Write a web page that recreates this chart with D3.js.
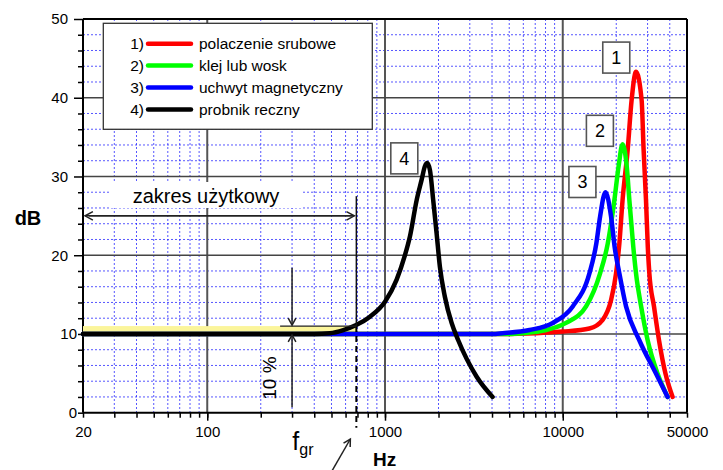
<!DOCTYPE html>
<html>
<head>
<meta charset="utf-8">
<script src="https://cdn.jsdelivr.net/npm/d3@7"></script>
<style>
  body { margin: 0; background: #fff; }
  svg { display: block; font-family: "Liberation Sans", Arial, sans-serif; }
</style>
</head>
<body>
<div id="chart"></div>
<script>
// tick labels
var xTickLabels = [20, 100, 1000, 10000, 50000];
var yTickLabels = [0, 10, 20, 30, 40, 50];

// series
var seriesNames = ["polaczenie srubowe", "klej lub wosk", "uchwyt magnetyczny", "probnik reczny"];
var seriesColors = ["#ff0000", "#00ff00", "#0000ff", "#000000"];

var redFreq = [20, 5000, 10000, 14125, 16770, 18700, 19950, 20820, 21700, 23190, 24400, 25830, 27780, 28500, 29400, 30100, 30700, 32600, 34800, 37800, 41500];
var redDb   = [10, 10, 10.3, 10.7, 11.8, 14.3, 17.7, 21.5, 27, 33.4, 39.7, 43.3, 39.7, 33.4, 27, 21, 17.7, 13.5, 9.2, 5, 2];

var greenFreq = [20, 5000, 5960, 8070, 10440, 13530, 16220, 17920, 19520, 20620, 21700, 22900, 23700, 24950, 25830, 27600, 30030, 34100, 38900];
var greenDb   = [10, 10, 10.1, 10.5, 11.4, 13.5, 17.7, 21.5, 27, 31.3, 34.1, 31.3, 27, 21, 17.7, 13.5, 9.2, 5, 2];

var blueFreq = [20, 4000, 4590, 6500, 8790, 11380, 14125, 15450, 16220, 17380, 18700, 19600, 20820, 22700, 26960, 33400, 38900];
var blueDb   = [10, 10, 10.1, 10.5, 11.4, 13.5, 17.7, 21.5, 24.9, 28, 24.9, 21, 17.7, 13.5, 9.2, 5, 2];

var blackFreq = [20, 400, 490, 583, 684, 823, 1000, 1163, 1295, 1382, 1507, 1608, 1677, 1727, 1790, 1867, 1951, 2037, 2173, 2370, 2582, 3272, 4030];
var blackDb   = [10, 10, 10.1, 10.5, 11.1, 12.2, 14.1, 16.9, 20, 22.4, 27, 29.6, 31.3, 31.7, 30.8, 27, 22.8, 18.5, 14.7, 11.4, 9.2, 4.6, 2];

// annotations
var fGr = 690;
var peakLabels = ["1", "2", "3", "4"];
var peakLabelFreq = [20000, 16180, 12900, 1284];
var peakLabelDb = [45.1, 35.8, 29.3, 32.3];

var svg = d3.select("#chart").append("svg")
    .attr("width", 723)
    .attr("height", 470);

var margin = { top: 19, left: 83 },
    width = 604,
    height = 393.7;

var g = svg.append("g").attr("transform", "translate(" + margin.left + "," + margin.top + ")");

var x = d3.scaleLog().domain([20, 50000]).range([0, width]);
var y = d3.scaleLinear().domain([0, 50]).range([height, 0]);

// minor positions
var xMinor = [];
[10, 100, 1000, 10000].forEach(function(dec) {
    for (var k = 1; k <= 9; k++) {
        var v = dec * k;
        if (v >= 20 && v <= 50000) xMinor.push(v);
    }
});
xMinor.push(20000, 30000, 40000, 50000);
xMinor = Array.from(new Set(xMinor)).sort(function(a, b) { return a - b; });
var xMajorGrid = [100, 1000, 10000];
var yMinor = d3.range(0, 51, 2).filter(function(v) { return v % 10 !== 0; });

// dotted grid
g.append("g").selectAll("line")
 .data(xMinor.filter(function(v) { return xMajorGrid.indexOf(v) < 0 && v > 20 && v < 50000; }))
 .enter().append("line")
 .attr("x1", d => x(d)).attr("x2", d => x(d))
 .attr("y1", 0).attr("y2", height)
 .attr("stroke", "#2020ff").attr("stroke-width", 1)
 .attr("stroke-dasharray", "2,2").attr("opacity", 0.75);

g.append("g").selectAll("line")
 .data(yMinor)
 .enter().append("line")
 .attr("x1", 0).attr("x2", width)
 .attr("y1", d => y(d)).attr("y2", d => y(d))
 .attr("stroke", "#2020ff").attr("stroke-width", 1)
 .attr("stroke-dasharray", "2,2").attr("opacity", 0.75);

// major grid
g.append("g").selectAll("line")
 .data(xMajorGrid)
 .enter().append("line")
 .attr("x1", d => x(d)).attr("x2", d => x(d))
 .attr("y1", 0).attr("y2", height)
 .attr("stroke", "#555").attr("stroke-width", 2);

g.append("g").selectAll("line")
 .data([10, 20, 30, 40])
 .enter().append("line")
 .attr("x1", 0).attr("x2", width)
 .attr("y1", d => y(d)).attr("y2", d => y(d))
 .attr("stroke", "#444").attr("stroke-width", 1.4);

// frame top/right
g.append("line").attr("x1", 0).attr("x2", width).attr("y1", 0).attr("y2", 0)
 .attr("stroke", "#000").attr("stroke-width", 2);
g.append("line").attr("x1", width).attr("x2", width).attr("y1", 0).attr("y2", height)
 .attr("stroke", "#000").attr("stroke-width", 2);

// axes
var xAxisMinor = d3.axisBottom(x).tickValues(xMinor).tickSize(5).tickFormat("");
var xAxisMajor = d3.axisBottom(x).tickValues(xMajorGrid).tickSize(8).tickFormat("");
var xAxisLabels = d3.axisBottom(x).tickValues(xTickLabels).tickSize(0).tickPadding(14)
    .tickFormat(d3.format("d"));

[xAxisMinor, xAxisMajor, xAxisLabels].forEach(function(ax) {
    var a = g.append("g").attr("transform", "translate(0," + height + ")").call(ax);
    a.select(".domain").remove();
    a.selectAll("line").attr("stroke", "#000").attr("stroke-width", 1.5);
    a.selectAll("text").attr("font-size", 15).attr("fill", "#000")
     .attr("font-family", "Liberation Sans, Arial, sans-serif");
});

var yAxisMinor = d3.axisLeft(y).tickValues(yMinor.concat([0, 10])).tickSize(5).tickFormat("");
var yAxisMajor = d3.axisLeft(y).tickValues([20, 30, 40, 50]).tickSize(9).tickPadding(6);
var yAxisLow = d3.axisLeft(y).tickValues([0, 10]).tickSize(0).tickPadding(6);

[yAxisMinor, yAxisMajor, yAxisLow].forEach(function(ax) {
    var a = g.append("g").call(ax);
    a.select(".domain").remove();
    a.selectAll("line").attr("stroke", "#000").attr("stroke-width", 1.5);
    a.selectAll("text").attr("font-size", 15).attr("fill", "#000")
     .attr("font-family", "Liberation Sans, Arial, sans-serif");
});

// axis lines
g.append("line").attr("x1", 0).attr("x2", 0).attr("y1", 0).attr("y2", height)
 .attr("stroke", "#000").attr("stroke-width", 2);
g.append("line").attr("x1", 0).attr("x2", width).attr("y1", height).attr("y2", height)
 .attr("stroke", "#000").attr("stroke-width", 2);

// yellow band (usable range, 10 %)
g.append("rect")
 .attr("x", x(20)).attr("y", y(11))
 .attr("width", x(fGr) - x(20)).attr("height", y(10) - y(11))
 .attr("fill", "#fbf59a");

// legend
var legend = g.append("g");
legend.append("rect")
 .attr("x", 20.3).attr("y", 4.3).attr("width", 269).attr("height", 106)
 .attr("fill", "#fff").attr("stroke", "#333").attr("stroke-width", 1.3);
seriesNames.forEach(function(name, i) {
    var ly = 24.7 + i * 21.9;
    legend.append("text").attr("x", 61).attr("y", ly).attr("dy", "0.35em")
     .attr("text-anchor", "end").attr("font-size", 15.5).text((i + 1) + ")");
    legend.append("line").attr("x1", 65).attr("x2", 108).attr("y1", ly).attr("y2", ly)
     .attr("stroke", seriesColors[i]).attr("stroke-width", 4.5).attr("stroke-linecap", "round");
    legend.append("text").attr("x", 116).attr("y", ly).attr("dy", "0.35em")
     .attr("font-size", 15.5).text(name);
});

// curves
var line = d3.line()
    .x(d => x(d.f))
    .y(d => y(d.v))
    .curve(d3.curveMonotoneX);

var series = [
    redFreq.map((f, i) => ({ f: f, v: redDb[i] })),
    greenFreq.map((f, i) => ({ f: f, v: greenDb[i] })),
    blueFreq.map((f, i) => ({ f: f, v: blueDb[i] })),
    blackFreq.map((f, i) => ({ f: f, v: blackDb[i] }))
];

series.forEach(function(s, i) {
    g.append("path")
     .datum(s)
     .attr("fill", "none")
     .attr("stroke", seriesColors[i])
     .attr("stroke-width", 4.5)
     .attr("stroke-linejoin", "round")
     .attr("stroke-linecap", "round")
     .attr("d", line);
});

// peak number boxes
peakLabels.forEach(function(lbl, i) {
    var cx = x(peakLabelFreq[i]), cy = y(peakLabelDb[i]);
    g.append("rect")
     .attr("x", cx - 13.5).attr("y", cy - 15.5).attr("width", 27).attr("height", 31)
     .attr("fill", "#fff").attr("stroke", "#555").attr("stroke-width", 1.6);
    g.append("text").attr("x", cx).attr("y", cy).attr("dy", "0.36em")
     .attr("text-anchor", "middle").attr("font-size", 18).text(lbl);
});

// arrow helper (open chevron head at x2,y2)
function arrow(x1, y1, x2, y2, head) {
    var a = Math.atan2(y2 - y1, x2 - x1), L = head || 8, w = 0.5;
    g.append("line").attr("x1", x1).attr("y1", y1).attr("x2", x2).attr("y2", y2)
     .attr("stroke", "#222").attr("stroke-width", 1.5);
    g.append("polyline")
     .attr("points", [
        [x2 - L * Math.cos(a - w), y2 - L * Math.sin(a - w)],
        [x2, y2],
        [x2 - L * Math.cos(a + w), y2 - L * Math.sin(a + w)]
     ].map(p => p.join(",")).join(" "))
     .attr("fill", "none").attr("stroke", "#222").attr("stroke-width", 1.5);
}

// "zakres użytkowy"
g.append("rect").attr("x", 27).attr("y", 163).attr("width", 193).attr("height", 26).attr("fill", "#fff");
g.append("text").attr("x", x(20) + 123).attr("y", 184.3).attr("text-anchor", "middle")
 .attr("font-size", 20).text("zakres użytkowy");
arrow(x(fGr) - 4, y(25), x(20) + 2, y(25), 9);
arrow(x(20) + 6, y(25), x(fGr) - 2, y(25), 9);

// fgr line: solid above the curve, dashed below
g.append("line").attr("x1", x(fGr)).attr("x2", x(fGr)).attr("y1", y(27.5)).attr("y2", y(11))
 .attr("stroke", "#111").attr("stroke-width", 1.5);
g.append("line").attr("x1", x(fGr)).attr("x2", x(fGr)).attr("y1", y(11)).attr("y2", height + 15)
 .attr("stroke", "#000").attr("stroke-width", 2).attr("stroke-dasharray", "6,4");

// 10 % marker
var x10 = x(300);
g.append("line").attr("x1", x(257)).attr("x2", x(fGr)).attr("y1", y(11)).attr("y2", y(11))
 .attr("stroke", "#222").attr("stroke-width", 1.3);
arrow(x10, y(18.4), x10, y(11) - 1, 8);
arrow(x10, y(0.7), x10, y(10) + 1, 8);
g.append("text")
 .attr("transform", "translate(" + (x10 - 16) + "," + y(4.4) + ") rotate(-90)")
 .attr("text-anchor", "middle").attr("font-size", 19).text("10 %");

// fgr label and arrow
g.append("text").attr("x", x(fGr) - 64).attr("y", 431).attr("font-size", 25).text("f");
g.append("text").attr("x", x(fGr) - 57).attr("y", 436).attr("font-size", 16).text("gr");
arrow(x(fGr) - 25, 453, x(fGr) - 6, 420, 8);

// axis titles
svg.append("text").attr("x", 28).attr("y", 225).attr("text-anchor", "middle")
 .attr("font-size", 20).attr("font-weight", "bold").text("dB");
svg.append("text").attr("x", 373).attr("y", 466)
 .attr("font-size", 19).attr("font-weight", "bold").text("Hz");
</script>
</body>
</html>
